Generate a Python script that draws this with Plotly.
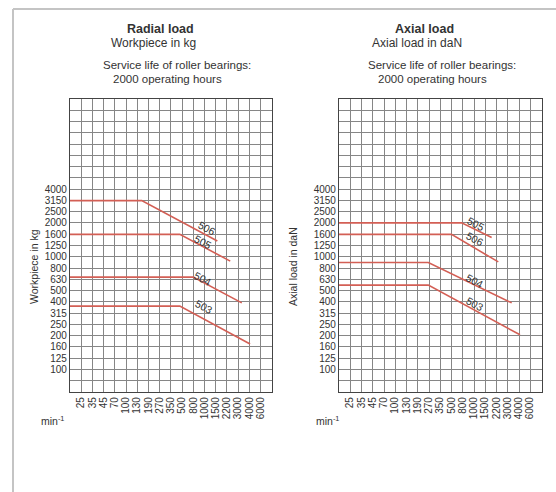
import numpy as np
import plotly.graph_objects as go

# speed scale (min-1), evenly spaced columns
SPEEDS = ["25", "35", "45", "70", "100", "130", "190", "270", "350",
          "500", "800", "1000", "1500", "2200", "3000", "4000", "6000"]
# load scale labels (kg / daN)
LOADS = [100, 125, 160, 200, 250, 315, 400, 500, 630, 800,
         1000, 1250, 1600, 2000, 2500, 3150, 4000]

# curves: x = position on the speed scale (column index), y = load
RADIAL = {
    "506": ([-1, 5.4, 12.15], [3150, 3150, 1380]),
    "505": ([-1, 8.8, 13.3], [1580, 1580, 915]),
    "504": ([-1, 10.0, 14.33], [660, 660, 390]),
    "503": ([-1, 8.8, 15.07], [365, 365, 168]),
}
AXIAL = {
    "505": ([-1, 9.9, 12.57], [2000, 2000, 1480]),
    "506": ([-1, 9.0, 13.16], [1580, 1580, 900]),
    "504": ([-1, 6.94, 14.35], [890, 890, 390]),
    "503": ([-1, 6.94, 15.09], [560, 560, 203]),
}
# where the bearing size labels sit (speed position, load)
RADIAL_LABELS = {"506": (11.2, 1800), "505": (10.9, 1350), "504": (10.9, 640), "503": (11.0, 358)}
AXIAL_LABELS = {"505": (11.2, 1960), "506": (11.1, 1440), "504": (11.1, 615), "503": (11.1, 382)}

W, H = 556, 492
FONT = "Liberation Sans, Arial, sans-serif"
TXT = "#333333"
RED = "#d35f55"

# one grid line per R10 step, labels only on the load scale values
grid_vals = [10 ** (k / 10) for k in range(18, 45)]
grid_text = []
for v in grid_vals:
    lab = ""
    for l in LOADS:
        if abs(np.log10(v) - np.log10(l)) < 0.02:
            lab = str(l)
    grid_text.append(lab)

fig = go.Figure()


def add_panel(n, curves, labels):
    xa = "x" if n == 1 else "x2"
    ya = "y" if n == 1 else "y2"
    for name, (xs, ys) in curves.items():
        fig.add_trace(go.Scatter(x=xs, y=ys, mode="lines", xaxis=xa, yaxis=ya,
                                 line=dict(color=RED, width=1.6), showlegend=False,
                                 hoverinfo="skip"))
    for name, (lx, ly) in labels.items():
        fig.add_annotation(x=lx, y=np.log10(ly), xref=xa, yref=ya, text=name,
                           showarrow=False, textangle=28,
                           font=dict(family=FONT, size=10.5, color=TXT))


add_panel(1, RADIAL, RADIAL_LABELS)
add_panel(2, AXIAL, AXIAL_LABELS)

xdom1 = [70 / W, 271.7 / W]
xdom2 = [339 / W, 541.5 / W]
ydom = [(H - 392) / H, (H - 99) / H]

xcommon = dict(range=[-1, 17], tickmode="array", tickvals=list(range(len(SPEEDS))),
               ticktext=SPEEDS, tickangle=-90, showgrid=True, gridcolor="#868686",
               gridwidth=1, showline=True, linecolor="#444444", linewidth=1.2,
               mirror=True, ticks="", zeroline=False,
               tickfont=dict(family=FONT, size=10, color=TXT))
ycommon = dict(type="log", range=[1.8, 4.4], tickmode="array", tickvals=grid_vals,
               ticktext=grid_text, showgrid=True, gridcolor="#868686", gridwidth=1,
               showline=True, linecolor="#444444", linewidth=1.2, mirror=True,
               ticks="", zeroline=False, tickfont=dict(family=FONT, size=10, color=TXT))

fig.update_layout(
    width=W, height=H, margin=dict(l=0, r=0, t=0, b=0),
    paper_bgcolor="white", plot_bgcolor="white",
    xaxis=dict(domain=xdom1, anchor="y", **xcommon),
    yaxis=dict(domain=ydom, anchor="x", **ycommon),
    xaxis2=dict(domain=xdom2, anchor="y2", **xcommon),
    yaxis2=dict(domain=ydom, anchor="x2", **ycommon),
)

# headings and axis captions
texts = [
    ("<b>Radial load</b>", 160, 29, 12.5),
    ("Workpiece in kg", 153, 43, 12),
    ("Service life of roller bearings:", 177, 65, 11.5),
    ("2000 operating hours", 167, 79, 11.5),
    ("<b>Axial load</b>", 424, 29, 12.5),
    ("Axial load in daN", 417, 43, 12),
    ("Service life of roller bearings:", 442, 65, 11.5),
    ("2000 operating hours", 432, 79, 11.5),
    ("min<sup>-1</sup>", 52, 420, 10.5),
    ("min<sup>-1</sup>", 327, 420, 10.5),
]
for t, px, py, fs in texts:
    fig.add_annotation(x=px / W, y=1 - py / H, xref="paper", yref="paper", text=t,
                       showarrow=False, xanchor="center", yanchor="middle",
                       font=dict(family=FONT, size=fs, color=TXT))

for t, px in [("Workpiece in kg", 34), ("Axial load in daN", 293)]:
    fig.add_annotation(x=px / W, y=1 - 267 / H, xref="paper", yref="paper", text=t,
                       showarrow=False, textangle=-90, xanchor="center", yanchor="middle",
                       font=dict(family=FONT, size=10.5, color=TXT))

# outer frame (top and left edge)
fig.add_shape(type="line", xref="paper", yref="paper", x0=13 / W, x1=1, y0=1 - 9 / H, y1=1 - 9 / H,
              line=dict(color="#c4c4c4", width=2))
fig.add_shape(type="line", xref="paper", yref="paper", x0=13 / W, x1=13 / W, y0=0, y1=1 - 9 / H,
              line=dict(color="#c4c4c4", width=2))

# page has a default body margin; drop it so the figure sits at the window origin
fig.write_html("out.html", config={"displayModeBar": False},
               post_script="document.body.style.margin='0px';")
